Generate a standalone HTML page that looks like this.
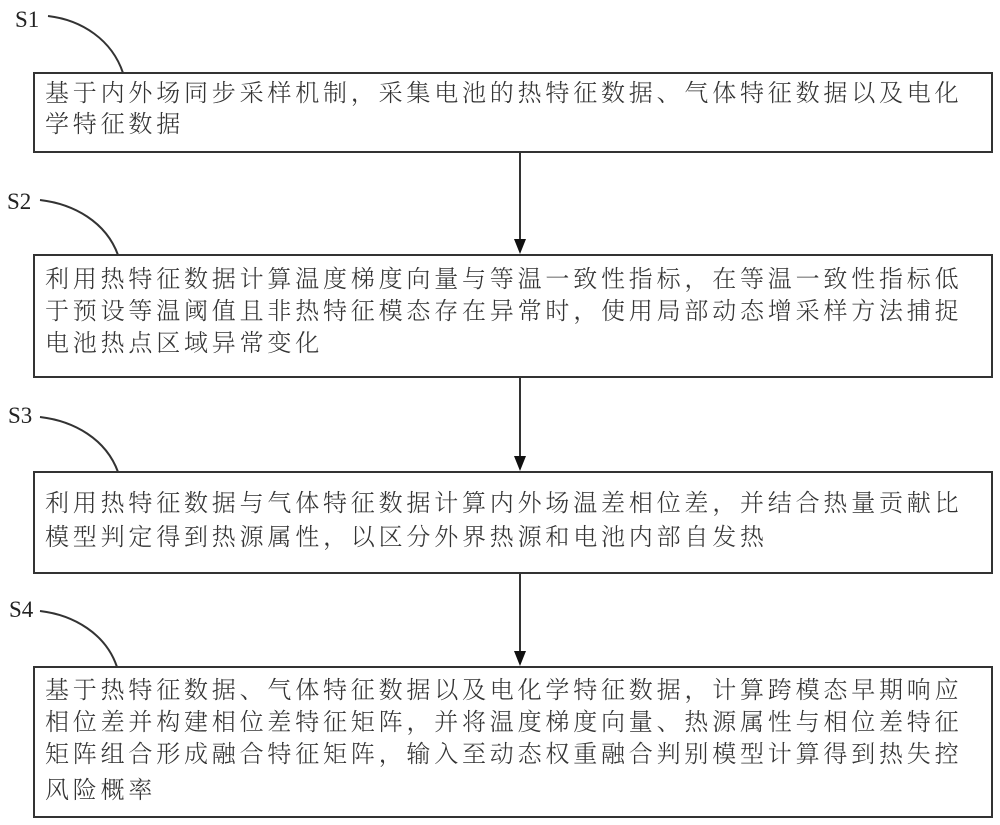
<!DOCTYPE html>
<html>
<head>
<meta charset="utf-8">
<style>
  html, body { margin:0; padding:0; background:#fff; }
  body { width:1000px; height:825px; position:relative; overflow:hidden; }
  svg { position:absolute; left:0; top:0; }
  .ln { position:absolute; left:45px; height:34px; line-height:34px; white-space:nowrap;
        font-family:"Liberation Serif","Noto Serif CJK SC","Noto Sans CJK SC",serif;
        font-size:24px; letter-spacing:3.8px; color:#333; font-weight:300; }
  .lb { position:absolute; font-family:"Liberation Serif",serif; font-size:23px; color:#222; line-height:23px; }
</style>
</head>
<body>
<svg width="1000" height="825" viewBox="0 0 1000 825">
  <g fill="none" stroke="#333" stroke-width="2">
    <rect x="34" y="73" width="958" height="79"/>
    <rect x="34" y="255" width="958" height="122"/>
    <rect x="34" y="472" width="958" height="101"/>
    <rect x="34" y="667" width="958" height="150"/>
    <line x1="520" y1="152" x2="520" y2="242"/>
    <line x1="520" y1="377" x2="520" y2="459"/>
    <line x1="520" y1="573" x2="520" y2="654"/>
    <path d="M48,16 C82,20 112,40 123,73"/>
    <path d="M40,200 C74,204 106,222 118,255"/>
    <path d="M40,417 C74,421 106,439 118,472"/>
    <path d="M40,611 C74,615 106,634 117,667"/>
  </g>
  <g fill="#111">
    <polygon points="514,239 526,239 520,254"/>
    <polygon points="514,456 526,456 520,471"/>
    <polygon points="514,651 526,651 520,666"/>
  </g>
</svg>

<div class="lb" style="left:15px;top:8px;">S1</div>
<div class="lb" style="left:7px;top:190px;">S2</div>
<div class="lb" style="left:8px;top:404px;">S3</div>
<div class="lb" style="left:9px;top:598px;">S4</div>

<div class="ln" style="top:77px;">基于内外场同步采样机制，采集电池的热特征数据、气体特征数据以及电化</div>
<div class="ln" style="top:108px;">学特征数据</div>

<div class="ln" style="top:263px;">利用热特征数据计算温度梯度向量与等温一致性指标，在等温一致性指标低</div>
<div class="ln" style="top:295px;">于预设等温阈值且非热特征模态存在异常时，使用局部动态增采样方法捕捉</div>
<div class="ln" style="top:327px;">电池热点区域异常变化</div>

<div class="ln" style="top:487px;">利用热特征数据与气体特征数据计算内外场温差相位差，并结合热量贡献比</div>
<div class="ln" style="top:521px;">模型判定得到热源属性，以区分外界热源和电池内部自发热</div>

<div class="ln" style="top:674px;">基于热特征数据、气体特征数据以及电化学特征数据，计算跨模态早期响应</div>
<div class="ln" style="top:706px;">相位差并构建相位差特征矩阵，并将温度梯度向量、热源属性与相位差特征</div>
<div class="ln" style="top:738px;">矩阵组合形成融合特征矩阵，输入至动态权重融合判别模型计算得到热失控</div>
<div class="ln" style="top:774px;">风险概率</div>
</body>
</html>
